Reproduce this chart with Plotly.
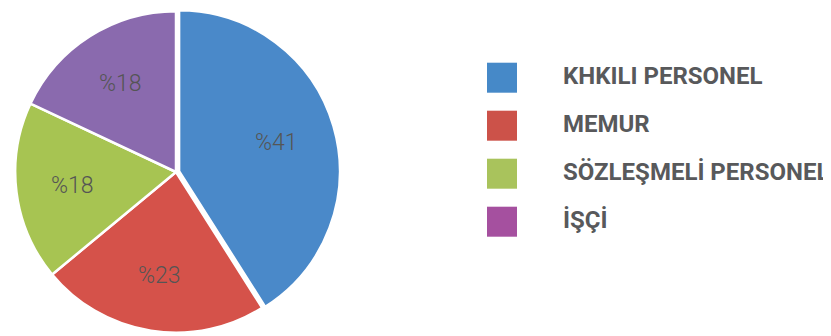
import math
import plotly.graph_objects as go

# slice data, clockwise from 12 o'clock
categories = ['KHKILI PERSONEL', 'MEMUR', 'SÖZLEŞMELİ PERSONEL', 'İŞÇİ']
values = [41, 23, 18, 18]
labels = ['%41', '%23', '%18', '%18']

pie_colors = ['#4a89c9', '#d5524a', '#a7c452', '#8a6aae']
legend_colors = ['#4689c8', '#cc5249', '#a9c35c', '#a5509f']
TEXT_GRAY = '#58595b'

# the page body keeps its default 8px margin, so the figure is 8px smaller
W, H = 831 - 8, 336 - 8

pull = [0.02, 0, 0, 0]
dom_x = [4, 332]
dom_y = [0, H]

fig = go.Figure()

fig.add_trace(go.Pie(
    labels=categories, values=values,
    textinfo='none',
    marker=dict(colors=pie_colors, line=dict(color='white', width=2.5)),
    sort=False, direction='clockwise', rotation=0,
    pull=pull,
    domain=dict(x=[dom_x[0] / W, dom_x[1] / W], y=[dom_y[0] / H, dom_y[1] / H]),
    showlegend=False, hoverinfo='label+percent',
))

# percentage labels placed along each slice's mid angle
cx = (dom_x[0] + dom_x[1]) / 2
cy = (dom_y[0] + dom_y[1]) / 2
rad = min(dom_x[1] - dom_x[0], dom_y[1] - dom_y[0]) / 2 / (1 + max(pull))
total = sum(values)
cum = 0
for v, t in zip(values, labels):
    mid = (cum + v / 2) / total * 2 * math.pi
    cum += v
    r = rad * 0.65
    px = cx + r * math.sin(mid)
    py = cy + r * math.cos(mid)
    fig.add_annotation(x=px / W, y=py / H, xref='paper', yref='paper',
                       xanchor='center', yanchor='middle',
                       text=t, showarrow=False,
                       font=dict(family='Roboto', size=23, color='#555555', weight=300))

# legend drawn as a marker column plus a text column
idx = list(range(len(categories)))
fig.add_trace(go.Scatter(
    x=[0] * len(idx), y=idx, mode='markers',
    marker=dict(symbol='square', size=30, color=legend_colors, line=dict(width=0)),
    showlegend=False, hoverinfo='skip',
))
fig.add_trace(go.Scatter(
    x=[1] * len(idx), y=idx, mode='text', text=categories,
    textposition='middle right',
    textfont=dict(family='Roboto', size=24, color=TEXT_GRAY, weight='bold'),
    showlegend=False, hoverinfo='skip',
))

# axes scaled so the marker column sits at ~494px and text at ~555px
px_per_x = 61.0
x0 = -494 / px_per_x
px_per_y = 48.0
y_top = -69.7 / px_per_y
fig.update_xaxes(range=[x0, x0 + W / px_per_x], visible=False, fixedrange=True)
fig.update_yaxes(range=[y_top + H / px_per_y, y_top], visible=False, fixedrange=True)

fig.update_layout(
    width=W, height=H,
    margin=dict(l=0, r=0, t=0, b=0),
    paper_bgcolor='white', plot_bgcolor='rgba(0,0,0,0)',
)

fig.write_html("out.html")
